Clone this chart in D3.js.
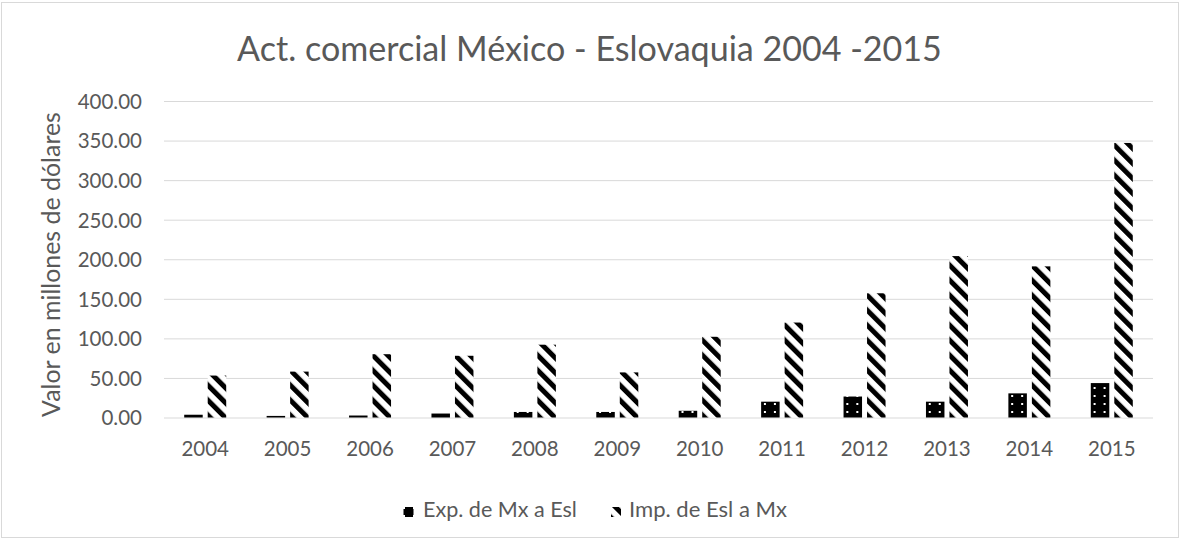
<!DOCTYPE html>
<html>
<head>
<meta charset="utf-8">
<script src="https://cdn.jsdelivr.net/npm/d3@7"></script>
<style>
  html, body { margin: 0; padding: 0; background: #fff; }
  svg { display: block; }
  text { font-family: Lato, "Open Sans", sans-serif; fill: #595959; }
</style>
</head>
<body>
<svg id="chart" width="1180" height="540"></svg>
<script>
// ---- data ----
const years = ["2004","2005","2006","2007","2008","2009","2010","2011","2012","2013","2014","2015"];
const expValues = [3.5, 2.0, 2.5, 5.0, 7.0, 7.0, 8.5, 20.0, 26.5, 20.0, 30.5, 43.5];
const impValues = [53, 58, 80, 78, 92, 57, 102, 120, 157, 204, 191, 347];
const seriesNames = ["Exp. de Mx a Esl", "Imp. de Esl a Mx"];
const yTicks = [0, 50, 100, 150, 200, 250, 300, 350, 400];
const titleText = "Act. comercial México - Eslovaquia 2004 -2015";
const yTitleText = "Valor en millones de dólares";

const svg = d3.select("#chart");
const W = 1180, H = 540;

// patterns
const defs = svg.append("defs");
const pDiag = defs.append("pattern")
  .attr("id", "diag").attr("patternUnits", "userSpaceOnUse")
  .attr("width", 10.6).attr("height", 10.6)
  .attr("patternTransform", "rotate(-45)");
pDiag.append("rect").attr("width", 10.6).attr("height", 10.6).attr("fill", "#fff");
pDiag.append("rect").attr("width", 5).attr("height", 10.6).attr("fill", "#000");

const pDot = defs.append("pattern")
  .attr("id", "dots").attr("patternUnits", "userSpaceOnUse")
  .attr("width", 10).attr("height", 8);
pDot.append("rect").attr("width", 10).attr("height", 8).attr("fill", "#000");
pDot.append("rect").attr("x", 3).attr("y", 3).attr("width", 2).attr("height", 2).attr("fill", "#fff");

const fills = ["url(#dots)", "url(#diag)"];

// background + border
svg.append("rect").attr("x", 1.5).attr("y", 2.5).attr("width", W - 3).attr("height", H - 5)
  .attr("fill", "#fff").attr("stroke", "#d9d9d9").attr("stroke-width", 1);

// scales
const x0 = 164, x1 = 1153, yBottom = 417.5, yTop = 101;
const x = d3.scaleBand().domain(years).range([x0, x1]).paddingInner(0).paddingOuter(0);
const xs = d3.scaleBand().domain([0, 1]).range([0, x.bandwidth()]).paddingInner(0.213).paddingOuter(0.86);
const y = d3.scaleLinear().domain([0, 400]).range([yBottom, yTop]);

// gridlines
const grid = svg.append("g").attr("transform", `translate(${x0},0)`)
  .call(d3.axisLeft(y).tickValues(yTicks).tickSize(-(x1 - x0)).tickFormat(""));
grid.select(".domain").remove();
grid.selectAll("line").attr("stroke", "#d9d9d9").attr("stroke-width", 1);

// y axis labels
const yAxis = svg.append("g").attr("transform", `translate(142,0)`)
  .call(d3.axisLeft(y).tickValues(yTicks).tickSize(0).tickPadding(0).tickFormat(d3.format(".2f")));
yAxis.select(".domain").remove();
yAxis.selectAll("text").attr("font-size", 20.5).attr("fill", "#595959")
  .attr("font-family", "Lato, 'Open Sans', sans-serif").attr("dy", "0.36em");

// x axis labels
const xAxis = svg.append("g").attr("transform", `translate(0,${yBottom})`)
  .call(d3.axisBottom(x).tickSize(0).tickPadding(0));
xAxis.select(".domain").remove();
xAxis.selectAll("text").attr("font-size", 20.5).attr("fill", "#595959")
  .attr("font-family", "Lato, 'Open Sans', sans-serif").attr("dy", null).attr("y", 38.5);

// bars
const data = years.map((yr, i) => ({ yr, vals: [expValues[i], impValues[i]] }));
const groups = svg.append("g").selectAll("g").data(data).join("g")
  .attr("transform", d => `translate(${x(d.yr)},0)`);
groups.selectAll("rect").data(d => d.vals.map((v, k) => ({ v, k }))).join("rect")
  .attr("x", d => xs(d.k))
  .attr("width", xs.bandwidth())
  .attr("y", d => y(d.v))
  .attr("height", d => y(0) - y(d.v))
  .attr("fill", d => fills[d.k]);

function fit(sel, target) {
  const base = 20;
  sel.attr("font-size", base);
  const len = sel.node().getComputedTextLength();
  if (len > 0) sel.attr("font-size", base * target / len);
}

// title
const title = svg.append("text").attr("x", 589.5).attr("y", 61).attr("text-anchor", "middle").text(titleText);
fit(title, 705);

// y axis title
const yt = svg.append("text").attr("text-anchor", "middle")
  .attr("transform", "translate(60,264.5) rotate(-90)").text(yTitleText);
fit(yt, 305);

// legend
const legendItems = [
  { name: seriesNames[0], sx: 403.5, tx: 423, tw: 154 },
  { name: seriesNames[1], sx: 611, tx: 629, tw: 158 }
];
legendItems.forEach((it, k) => {
  svg.append("rect").attr("x", it.sx).attr("y", 507).attr("width", 10).attr("height", 10)
    .attr("fill", fills[k]);
  const t = svg.append("text").attr("x", it.tx).attr("y", 517).text(it.name);
  fit(t, it.tw);
});
</script>
</body>
</html>
